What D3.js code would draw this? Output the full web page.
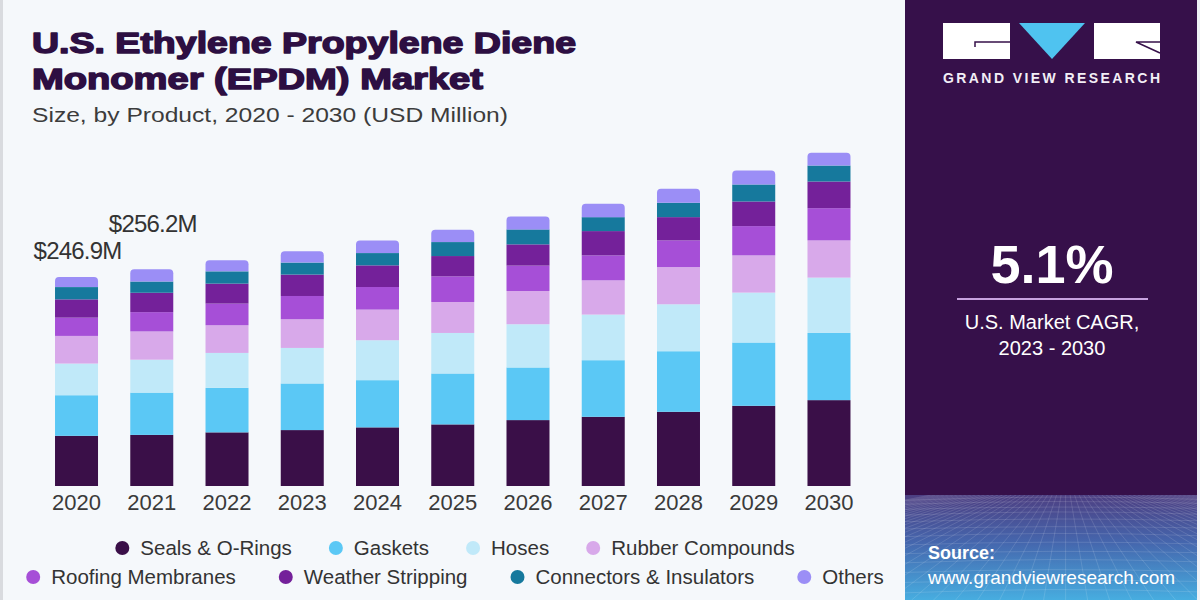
<!DOCTYPE html>
<html>
<head>
<meta charset="utf-8">
<script src="https://cdn.jsdelivr.net/npm/d3@7"></script>
<style>
  html, body { margin: 0; padding: 0; background: #f5f8fb; }
  svg { display: block; }
</style>
</head>
<body>
<svg id="chart" width="1200" height="600"></svg>
<script>
// ---------------- data ----------------
const years = ["2020","2021","2022","2023","2024","2025","2026","2027","2028","2029","2030"];
const seriesNames = ["Seals & O-Rings","Gaskets","Hoses","Rubber Compounds","Roofing Membranes","Weather Stripping","Connectors & Insulators","Others"];
const seals      = [59.3, 60.4, 63.4, 66.1, 69.3, 72.8, 77.9, 81.8, 87.7, 94.8, 101.5];
const gaskets    = [48.0, 50.0, 52.6, 55.1, 55.8, 60.2, 62.2, 66.9, 71.6, 74.8, 79.4];
const hoses      = [37.4, 38.9, 41.3, 42.0, 47.2, 47.9, 51.1, 53.9, 55.5, 59.0, 65.4];
const rubber     = [32.7, 33.4, 32.7, 33.9, 36.2, 36.6, 39.3, 40.5, 44.0, 44.0, 44.0];
const roofing    = [21.6, 22.8, 25.6, 27.5, 26.7, 30.3, 30.0, 29.5, 31.5, 34.6, 38.1];
const weather    = [21.6, 22.9, 23.6, 25.3, 25.6, 24.0, 25.1, 28.7, 27.5, 29.1, 31.5];
const connectors = [14.5, 13.3, 14.5, 14.2, 14.5, 16.5, 17.7, 16.5, 17.0, 20.1, 18.9];
const others     = [11.8, 14.5, 13.0, 13.3, 15.0, 14.6, 15.3, 15.8, 16.5, 16.5, 15.0];
const valueLabels = [{year: "2020", text: "$246.9M"}, {year: "2021", text: "$256.2M"}];
const colors = ["#3a0f48","#5bc8f5","#c0e9f9","#d8a9ea","#a64fd7","#74219a","#16799d","#9b8ef6"];

const seriesValues = [seals, gaskets, hoses, rubber, roofing, weather, connectors, others];
const table = years.map((y, i) => {
  const row = {year: y};
  seriesNames.forEach((s, k) => row[s] = seriesValues[k][i]);
  return row;
});

// ---------------- layout ----------------
const svg = d3.select("#chart");
const W = 1200, H = 600;
const FONT = "'Liberation Sans', Arial, sans-serif";

svg.append("rect").attr("width", W).attr("height", H).attr("fill", "#f5f8fb");
svg.append("rect").attr("x", 0).attr("y", 0).attr("width", 3).attr("height", H).attr("fill", "#d9dbdf");

// Title
const titleColor = "#2d0f42";
svg.append("text").attr("x", 32).attr("y", 53)
  .attr("font-family", FONT).attr("font-weight", "bold").attr("font-size", 30)
  .attr("fill", titleColor).attr("stroke", titleColor).attr("stroke-width", 1.5)
  .attr("stroke-linejoin", "round")
  .attr("textLength", 544).attr("lengthAdjust", "spacingAndGlyphs")
  .text("U.S. Ethylene Propylene Diene");
svg.append("text").attr("x", 32).attr("y", 89)
  .attr("font-family", FONT).attr("font-weight", "bold").attr("font-size", 30)
  .attr("fill", titleColor).attr("stroke", titleColor).attr("stroke-width", 1.5)
  .attr("stroke-linejoin", "round")
  .attr("textLength", 451).attr("lengthAdjust", "spacingAndGlyphs")
  .text("Monomer (EPDM) Market");
svg.append("text").attr("x", 32).attr("y", 122)
  .attr("font-family", FONT).attr("font-size", 20).attr("fill", "#3c3c3c")
  .attr("textLength", 476).attr("lengthAdjust", "spacingAndGlyphs")
  .text("Size, by Product, 2020 - 2030 (USD Million)");

// Scales
const x = d3.scaleBand().domain(years).range([38.9, 866.6]).paddingInner(0.4286).paddingOuter(0.2143);
const y = d3.scaleLinear().domain([0, 400]).range([486, 486 - 400 / 1.182]);

const stack = d3.stack().keys(seriesNames);
const stacked = stack(table);

const g = svg.append("g");
stacked.forEach((layer, k) => {
  const isTop = k === stacked.length - 1;
  const sel = g.append("g").attr("fill", colors[k]);
  layer.forEach(d => {
    const x0 = x(d.data.year), w = x.bandwidth();
    const yTop = y(d[1]), yBot = y(d[0]);
    if (isTop) {
      const r = 4;
      const p = d3.path();
      p.moveTo(x0, yBot);
      p.lineTo(x0, yTop + r);
      p.quadraticCurveTo(x0, yTop, x0 + r, yTop);
      p.lineTo(x0 + w - r, yTop);
      p.quadraticCurveTo(x0 + w, yTop, x0 + w, yTop + r);
      p.lineTo(x0 + w, yBot);
      p.closePath();
      sel.append("path").attr("d", p.toString());
    } else {
      sel.append("rect").attr("x", x0).attr("y", yTop)
        .attr("width", w).attr("height", Math.max(0, yBot - yTop));
    }
  });
});

// X axis (year labels)
const xAxis = d3.axisBottom(x).tickSize(0).tickPadding(8);
const ax = svg.append("g").attr("transform", "translate(0,486)").call(xAxis);
ax.select(".domain").remove();
ax.selectAll("text").attr("font-family", FONT).attr("font-size", 22).attr("fill", "#3a3a3a").attr("dy", "0.71em");

// Value labels
const totals = {};
table.forEach(r => totals[r.year] = d3.sum(seriesNames, s => r[s]));
const labelOffsets = [18, 37];
valueLabels.forEach((v, i) => {
  svg.append("text")
    .attr("x", x(v.year) + x.bandwidth() / 2 + 1)
    .attr("y", y(totals[v.year]) - labelOffsets[i])
    .attr("text-anchor", "middle")
    .attr("font-family", FONT).attr("font-size", 24).attr("letter-spacing", -0.8)
    .attr("fill", "#333").text(v.text);
});

// Legend
const legendRows = [[0,1,2,3],[4,5,6,7]];
const legendY = [548, 577];
const legendCenter = 455;
const legendGaps = [37, 43];
legendRows.forEach((row, ri) => {
  const lg = svg.append("g");
  const gap = legendGaps[ri];
  let cx = 0;
  row.forEach((k, j) => {
    const item = lg.append("g").attr("transform", `translate(${cx},0)`);
    item.append("circle").attr("cx", 7).attr("cy", 0).attr("r", 7).attr("fill", colors[k]);
    const t = item.append("text").attr("x", 25).attr("y", 0).attr("dy", "0.35em")
      .attr("font-family", FONT).attr("font-size", 20.5).attr("fill", "#333")
      .text(seriesNames[k]);
    const tw = t.node().getComputedTextLength();
    cx += 25 + tw + gap;
  });
  const total = cx - gap;
  lg.attr("transform", `translate(${legendCenter - total / 2},${legendY[ri]})`);
});

// ---------------- right panel ----------------
const panelX = 905, panelW = 292;
svg.append("rect").attr("x", panelX).attr("y", 0).attr("width", panelW).attr("height", H).attr("fill", "#36104a");

const defs = svg.append("defs");
const grad = defs.append("linearGradient").attr("id", "srcGrad").attr("x1", 0).attr("y1", 0).attr("x2", 0).attr("y2", 1);
grad.append("stop").attr("offset", "0%").attr("stop-color", "#4d3f82");
grad.append("stop").attr("offset", "45%").attr("stop-color", "#4566ad");
grad.append("stop").attr("offset", "100%").attr("stop-color", "#47ade0");
defs.append("clipPath").attr("id", "srcClip").append("rect")
  .attr("x", panelX).attr("y", 495).attr("width", panelW).attr("height", 105);

svg.append("rect").attr("x", panelX).attr("y", 495).attr("width", panelW).attr("height", 105).attr("fill", "url(#srcGrad)");

// perspective grid texture
const gridG = svg.append("g").attr("clip-path", "url(#srcClip)")
  .attr("stroke", "#ffffff").attr("stroke-opacity", 0.16).attr("stroke-width", 0.8).attr("fill", "none");
const hLines = d3.range(1, 15).map(i => 495 + Math.pow(i, 1.45) * 2.3);
hLines.forEach((yy, i) => {
  const p = d3.path();
  p.moveTo(panelX, yy + 3);
  p.quadraticCurveTo(panelX + panelW / 2, yy - 3 + (i % 3), panelX + panelW, yy + 2);
  gridG.append("path").attr("d", p.toString());
});
const vp = {x: panelX + panelW * 0.55, y: 430};
d3.range(-30, 31).forEach(i => {
  const bx = vp.x + i * 22;
  gridG.append("line").attr("x1", vp.x + i * 4.5).attr("y1", 495).attr("x2", bx).attr("y2", 600);
});
svg.append("rect").attr("x", 1197).attr("y", 0).attr("width", 3).attr("height", H).attr("fill", "#eef1f6");

// Logo
const logo = svg.append("g");
logo.append("rect").attr("x", 943).attr("y", 23).attr("width", 67).attr("height", 36).attr("fill", "#ffffff");
logo.append("path").attr("d", "M1019,23 L1085,23 L1052,59 Z").attr("fill", "#4fc3f0");
logo.append("rect").attr("x", 1094).attr("y", 23).attr("width", 66).attr("height", 36).attr("fill", "#ffffff");
logo.append("path").attr("d", "M975,47 L975,42 L1010,42").attr("stroke", "#36104a").attr("stroke-width", 1.5).attr("fill", "none");
logo.append("path").attr("d", "M1160,42 L1136,42 L1160,53").attr("stroke", "#36104a").attr("stroke-width", 1.5).attr("fill", "none");
svg.append("text").attr("x", 943).attr("y", 83)
  .attr("font-family", FONT).attr("font-weight", "bold").attr("font-size", 14)
  .attr("fill", "#f2eef6").attr("textLength", 217).attr("lengthAdjust", "spacing")
  .text("GRAND VIEW RESEARCH");

// CAGR
svg.append("text").attr("x", 1052).attr("y", 283).attr("text-anchor", "middle")
  .attr("font-family", FONT).attr("font-weight", "bold").attr("font-size", 54).attr("fill", "#ffffff")
  .text("5.1%");
svg.append("line").attr("x1", 957).attr("x2", 1148).attr("y1", 299).attr("y2", 299)
  .attr("stroke", "#c7a2df").attr("stroke-width", 2);
svg.append("text").attr("x", 1052).attr("y", 329).attr("text-anchor", "middle")
  .attr("font-family", FONT).attr("font-size", 20).attr("fill", "#ffffff")
  .text("U.S. Market CAGR,");
svg.append("text").attr("x", 1052).attr("y", 355).attr("text-anchor", "middle")
  .attr("font-family", FONT).attr("font-size", 20).attr("fill", "#ffffff")
  .text("2023 - 2030");

// Source
svg.append("text").attr("x", 928).attr("y", 559)
  .attr("font-family", FONT).attr("font-weight", "bold").attr("font-size", 18).attr("fill", "#ffffff")
  .text("Source:");
svg.append("text").attr("x", 928).attr("y", 584)
  .attr("font-family", FONT).attr("font-size", 19).attr("fill", "#ffffff")
  .text("www.grandviewresearch.com");
</script>
</body>
</html>
